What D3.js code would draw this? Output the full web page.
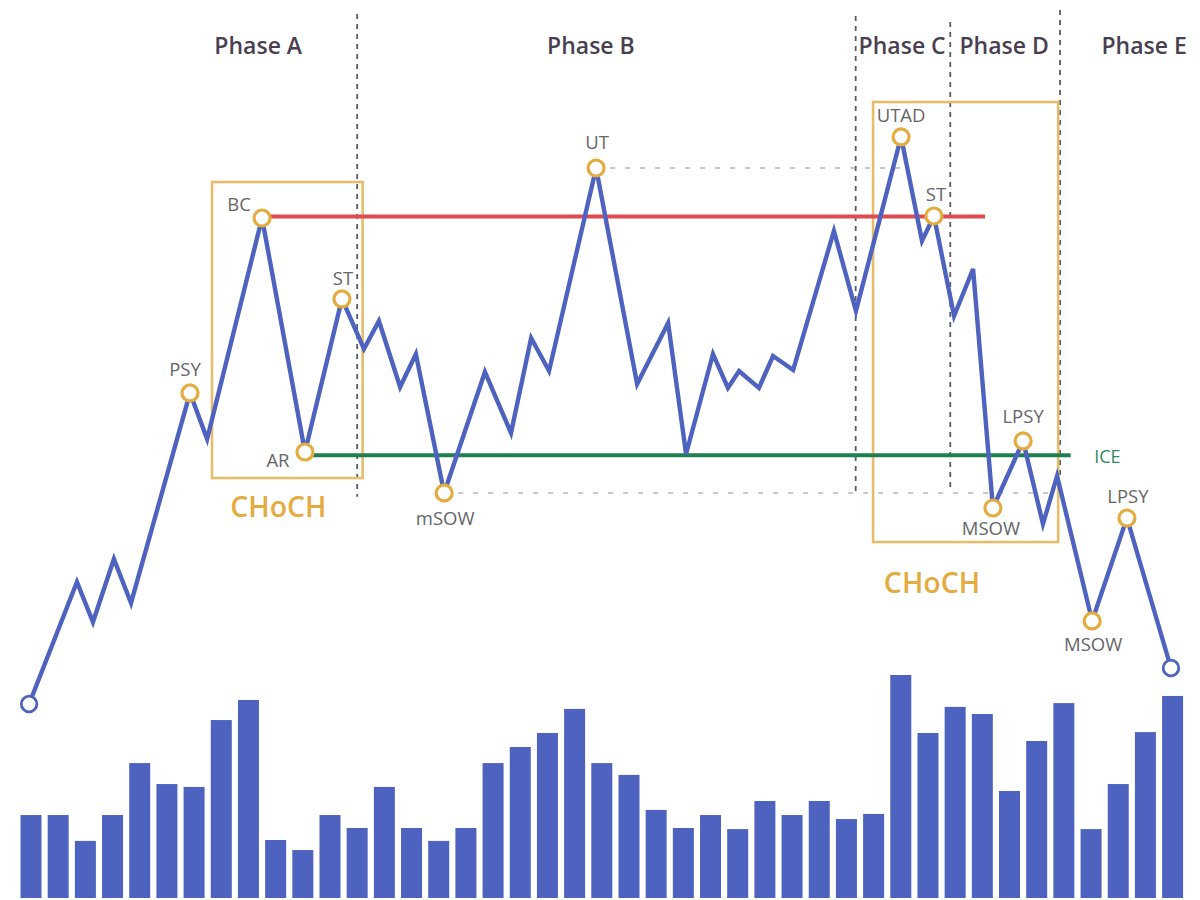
<!DOCTYPE html>
<html><head><meta charset="utf-8">
<script src="https://cdn.jsdelivr.net/npm/d3@7/dist/d3.min.js"></script>
<style>html,body{margin:0;padding:0;background:#fff}svg{display:block}text{font-family:"Open Sans",Lato,sans-serif}</style>
</head><body><svg id="c" width="1200" height="900"></svg>
<script>
const volumes=[37.2,37.2,25.6,37.2,60.5,51.1,49.8,79.8,88.8,26,21.5,37.2,31.4,49.8,31.4,25.6,31.4,60.5,67.7,74,84.8,60.5,55.2,39.5,31.4,37.2,30.9,43.5,37.2,43.5,35.4,37.7,100,74,85.7,82.5,48,70.4,87.4,30.9,51.1,74.4,90.6];
const lineSessions=[-0.07,1.69,2.28,3.05,3.68,5.85,6.48,8.5,10.08,11.44,12.25,12.8,13.58,14.16,15.2,16.7,17.66,18.4,19.06,20.79,22.3,23.44,24.1,25.09,25.64,26.05,26.78,27.3,28.04,29.54,30.35,32.01,32.78,33.22,33.96,34.66,35.39,36.5,37.23,37.75,39.04,40.32,41.94];
const linePrices=[24.5,39.75,34.75,42.63,37.13,63.38,57.63,85.25,56,75.13,68.88,72.38,64.13,68.25,50.88,66,58.38,70.25,66.13,91.5,64.5,72.13,55.75,68.25,64,66.13,64,68,66.25,83.63,73.63,95.38,82.38,85.5,73,78.88,49,57.38,47,53,34.88,47.75,29];
const eventNames=["PSY","BC","AR","ST","mSOW","UT","UTAD","ST","MSOW","LPSY","MSOW","LPSY"];
const eventPoints=[5,7,8,9,14,19,31,33,36,37,40,41];
const eventOffsetX=[-5,-23,-27,1,1,1,0,2,-2,0,1,1];
const eventOffsetY=[-17,-7,15,-14,32,-19,-15,-15,27,-18,30,-15];
const phaseNames=["Phase A","Phase B","Phase C","Phase D","Phase E"];
const phaseCentres=[8.36,20.6,32.05,35.8,40.95];
const phaseDividers=[12,30.34,33.82,37.86];
const dividerTops=[110.75,110.5,109.75,111.25],dividerBottoms=[50.4,50.6,51,52.5];
const levelSupport=55.6,levelResist=85.45,levelUT=91.5,levelLow=50.88;
const boxes=[{x0:6.66,x1:12.2,y0:52.75,y1:89.75,label:"CHoCH",lx:9.1,ly:47.9},{x0:30.98,x1:37.79,y0:44.75,y1:99.75,label:"CHoCH",lx:33.15,ly:38.4}];

const svg=d3.select("#c");
const x=d3.scaleLinear().domain([0,42]).range([31,1172.6]);
const y=d3.scaleLinear().domain([0,100]).range([900,100]);
const v=d3.scaleLinear().domain([0,100]).range([898,675]);
const blue="#4E62C0",gold="#E4AC3F",boxGold="#E6BD6B";

svg.selectAll("rect.b").data(volumes).join("rect").attr("class","b")
 .attr("x",(d,i)=>x(i)-10.5).attr("width",21).attr("y",d=>v(d)).attr("height",d=>v(0)-v(d)).attr("fill",blue);

svg.selectAll("line.div").data(phaseDividers).join("line").attr("class","div")
 .attr("x1",d=>x(d)).attr("x2",d=>x(d)).attr("y1",(d,i)=>y(dividerTops[i])).attr("y2",(d,i)=>y(dividerBottoms[i]))
 .attr("stroke","#555c66").attr("stroke-width",1.8).attr("stroke-dasharray","5 5");

const gray=[{a:20.79,b:32.2,p:levelUT},{a:15.2,b:37.6,p:levelLow}];
svg.selectAll("line.g").data(gray).join("line").attr("class","g")
 .attr("x1",d=>x(d.a)+14).attr("x2",d=>x(d.b)).attr("y1",d=>y(d.p)).attr("y2",d=>y(d.p))
 .attr("stroke","#b5b7ba").attr("stroke-width",1.5).attr("stroke-dasharray","5 10");

svg.selectAll("rect.box").data(boxes).join("rect").attr("class","box")
 .attr("x",d=>x(d.x0)).attr("width",d=>x(d.x1)-x(d.x0)).attr("y",d=>y(d.y1)).attr("height",d=>y(d.y0)-y(d.y1))
 .attr("fill","none").attr("stroke",boxGold).attr("stroke-width",2.6);

svg.append("line").attr("x1",x(8.5)).attr("x2",x(35.1)).attr("y1",y(levelResist)).attr("y2",y(levelResist)).attr("stroke","#DE4B50").attr("stroke-width",4);
svg.append("line").attr("x1",x(10.08)).attr("x2",x(38.25)).attr("y1",y(levelSupport)).attr("y2",y(levelSupport)).attr("stroke","#1F7F4F").attr("stroke-width",4);

const path=d3.line().x(d=>x(d[0])).y(d=>y(d[1]));
const pts=d3.zip(lineSessions,linePrices);
svg.append("path").attr("d",path(pts)).attr("fill","none").attr("stroke",blue).attr("stroke-width",4.4).attr("stroke-linejoin","miter");

svg.selectAll("circle.end").data([pts[0],pts[pts.length-1]]).join("circle").attr("class","end")
 .attr("cx",d=>x(d[0])).attr("cy",d=>y(d[1])).attr("r",7.8).attr("fill","#fff").attr("stroke",blue).attr("stroke-width",2.8);
svg.selectAll("circle.ev").data(eventPoints).join("circle").attr("class","ev")
 .attr("cx",d=>x(lineSessions[d])).attr("cy",d=>y(linePrices[d])).attr("r",8).attr("fill","#fff").attr("stroke",gold).attr("stroke-width",3.2);

svg.selectAll("text.ev").data(eventPoints).join("text").attr("class","ev")
 .attr("x",(d,i)=>x(lineSessions[d])+eventOffsetX[i]).attr("y",(d,i)=>y(linePrices[d])+eventOffsetY[i])
 .attr("text-anchor","middle").attr("fill","#666669").attr("font-size",18.5).attr("font-weight",500)
 .text((d,i)=>eventNames[i]);

svg.selectAll("text.ph").data(phaseNames).join("text").attr("class","ph")
 .attr("x",(d,i)=>x(phaseCentres[i])).attr("y",54).attr("text-anchor","middle")
 .attr("fill","#4A3F50").attr("font-size",23).attr("font-weight",600).text(d=>d);

svg.selectAll("text.ch").data(boxes).join("text").attr("class","ch")
 .attr("x",d=>x(d.lx)).attr("y",d=>y(d.ly)).attr("text-anchor","middle")
 .attr("fill",gold).attr("font-size",28.5).attr("font-weight",600).text(d=>d.label);

svg.append("text").attr("x",x(39.6)).attr("y",y(levelSupport)+8).attr("text-anchor","middle")
 .attr("fill","#2E8B61").attr("font-size",18).attr("font-weight",500).text("ICE");
</script></body></html>
